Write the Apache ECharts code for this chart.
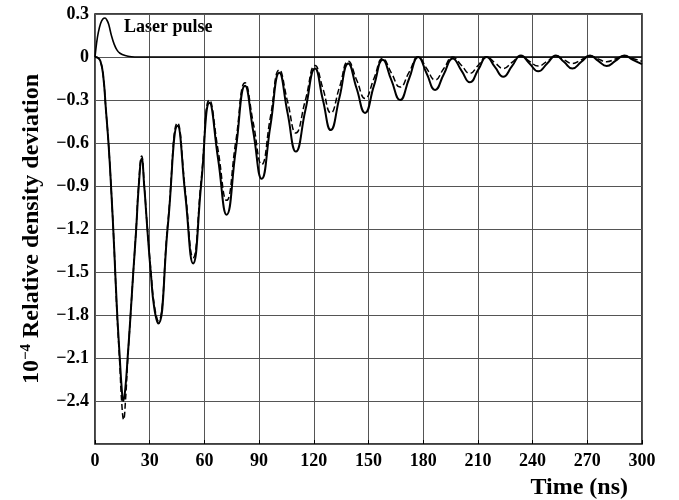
<!DOCTYPE html>
<html>
<head>
<meta charset="utf-8">
<script src="https://cdn.jsdelivr.net/npm/echarts@6/dist/echarts.min.js"></script>
<style>
  html, body { margin: 0; padding: 0; background: #fff; }
  #chartmain { width: 679px; height: 500px; }
</style>
</head>
<body>
<div id="chartmain"></div>
<script>
// [time (ns), value]
var solidCurve = [
    [0, 0], [1.5, -0.005], [3, -0.03], [4.5, -0.13], [6, -0.37], [7.5, -0.62], [9, -0.95],
    [10.5, -1.33], [12, -1.75], [13.5, -2.08], [14.7, -2.32], [15.5, -2.40], [16.5, -2.33],
    [18, -2.08], [19.5, -1.80], [21, -1.50], [22.5, -1.22], [24, -0.90], [25.6, -0.71],
    [27, -0.90], [28.7, -1.20], [30.7, -1.52], [32.5, -1.75], [34.7, -1.86], [40, -1.17],
    [45.3, -0.48], [49.5, -0.96], [53.8, -1.44], [58.3, -0.88], [62.8, -0.32], [67.5, -0.71],
    [72.2, -1.10], [77.2, -0.65], [82.3, -0.20], [86.8, -0.52], [91.4, -0.85], [96.2, -0.48],
    [101.1, -0.11], [105.6, -0.39], [110.2, -0.66], [115.4, -0.37], [120.7, -0.08], [125, -0.30],
    [129.3, -0.51], [134.1, -0.28], [138.9, -0.045], [143.5, -0.22], [148.1, -0.39], [153, -0.20],
    [157.8, -0.02], [162.5, -0.16], [167.3, -0.30], [172.3, -0.15], [177.3, 0.0], [181.9, -0.115],
    [186.5, -0.23], [191.3, -0.12], [196.2, -0.01], [200.9, -0.093], [205.6, -0.177], [210.2, -0.088],
    [214.8, 0.0], [219.3, -0.069], [223.9, -0.138], [228.7, -0.064], [233.6, 0.01], [238.3, -0.045],
    [243.1, -0.10], [248, -0.045], [252.8, 0.01], [257.3, -0.035], [261.8, -0.08], [266.6, -0.035],
    [271.5, 0.01], [276, -0.027], [280.6, -0.063], [285.4, -0.027], [290.3, 0.01], [295, -0.02],
    [300, -0.05]
];

var dashedCurve = [
    [0, 0], [1.5, -0.005], [3, -0.03], [4.5, -0.13], [6, -0.37], [7.5, -0.62], [9, -0.95],
    [10.5, -1.33], [12, -1.77], [13.5, -2.12], [14.7, -2.42], [15.7, -2.53], [16.7, -2.40],
    [18, -2.10], [19.5, -1.80], [21, -1.50], [22.5, -1.21], [24, -0.88], [25.6, -0.69],
    [27, -0.89], [28.7, -1.19], [30.7, -1.50], [32.5, -1.73], [34.7, -1.84], [40, -1.15],
    [45.3, -0.46], [49.5, -0.93], [53.8, -1.40], [58.3, -0.85], [62.8, -0.30], [67.5, -0.65],
    [72.2, -1.00], [77.2, -0.59], [82.3, -0.18], [86.8, -0.46], [91.4, -0.75], [96.2, -0.42],
    [101.1, -0.09], [105.6, -0.31], [110.2, -0.53], [115.4, -0.30], [120.7, -0.06], [125, -0.22],
    [129.3, -0.39], [134.1, -0.21], [138.9, -0.03], [143.5, -0.16], [148.1, -0.29], [153, -0.15],
    [157.8, -0.01], [162.5, -0.11], [167.3, -0.21], [172.3, -0.105], [177.3, 0.0], [181.9, -0.08],
    [186.5, -0.16], [191.3, -0.08], [196.2, 0.0], [200.9, -0.057], [205.6, -0.114], [210.2, -0.057],
    [214.8, 0.0], [219.3, -0.04], [223.9, -0.08], [228.7, -0.037], [233.6, 0.005], [238.3, -0.03],
    [243.1, -0.063], [248, -0.029], [252.8, 0.005], [257.3, -0.02], [261.8, -0.045], [266.6, -0.02],
    [271.5, 0.005], [276, -0.014], [280.6, -0.033], [285.4, -0.014], [290.3, 0.005], [295, -0.01],
    [300, -0.03]
];

var laserPulse = [
    [0, 0], [0.9, 0.10], [1.8, 0.17], [3.1, 0.235], [4.3, 0.265], [5.5, 0.272], [6.5, 0.258],
    [7.5, 0.228], [9, 0.15], [10.5, 0.09], [12, 0.05], [13.7, 0.026], [16.5, 0.01], [20, 0.002],
    [24, 0], [300, 0]
];

var serif = '"Liberation Serif", "Times New Roman", serif';

var myChart = echarts.init(document.getElementById('chartmain'));

var option = {
    backgroundColor: '#fff',
    animation: false,
    grid: {
        left: 95, right: 37, top: 14, bottom: 56,
        show: true,
        borderColor: '#000',
        borderWidth: 1.5
    },
    graphic: [{
        type: 'text',
        left: 124,
        top: 18,
        style: {
            text: 'Laser pulse',
            font: 'bold 18px ' + serif,
            fill: '#000'
        }
    }],
    xAxis: {
        type: 'value',
        min: 0,
        max: 300,
        interval: 30,
        name: 'Time (ns)',
        nameLocation: 'end',
        nameGap: 0,
        nameTextStyle: {
            fontFamily: serif, fontWeight: 'bold', fontSize: 24, color: '#000',
            align: 'right', verticalAlign: 'top', padding: [32, 14, 0, 0]
        },
        axisLine: { show: false, onZero: false },
        axisTick: { show: true, inside: true, length: 4, lineStyle: { color: '#000' } },
        axisLabel: {
            fontFamily: serif, fontWeight: 'bold', fontSize: 18, color: '#000', margin: 8
        },
        splitLine: { show: true, lineStyle: { color: '#555', width: 1 } }
    },
    yAxis: {
        type: 'value',
        min: -2.7,
        max: 0.3,
        interval: 0.3,
        name: '10{sup|−4} Relative density deviation',
        nameLocation: 'middle',
        nameGap: 50,
        nameRotate: 90,
        nameTextStyle: {
            fontFamily: serif, fontWeight: 'bold', fontSize: 24, color: '#000', lineHeight: 26,
            rich: {
                sup: { fontFamily: serif, fontWeight: 'bold', fontSize: 15, color: '#000', verticalAlign: 'top', lineHeight: 15 }
            }
        },
        axisLine: { show: false, onZero: false },
        axisTick: { show: false },
        axisLabel: {
            fontFamily: serif, fontWeight: 'bold', fontSize: 18, color: '#000', margin: 6,
            showMinLabel: false,
            formatter: function (v) {
                if (Math.abs(v) < 1e-9) return '0';
                return v.toFixed(1).replace('-', '−');
            }
        },
        splitLine: { show: true, lineStyle: { color: '#555', width: 1 } }
    },
    series: [
        {
            name: 'pulse',
            type: 'line',
            data: laserPulse,
            smooth: 0.4,
            showSymbol: false,
            lineStyle: { color: '#000', width: 1.6 }
        },
        {
            name: 'dashed',
            type: 'line',
            data: dashedCurve,
            smooth: 0.5,
            showSymbol: false,
            lineStyle: { color: '#000', width: 1.5, type: [6, 3] }
        },
        {
            name: 'solid',
            type: 'line',
            data: solidCurve,
            smooth: 0.5,
            showSymbol: false,
            lineStyle: { color: '#000', width: 2 }
        }
    ]
};

myChart.setOption(option);
</script>
</body>
</html>
